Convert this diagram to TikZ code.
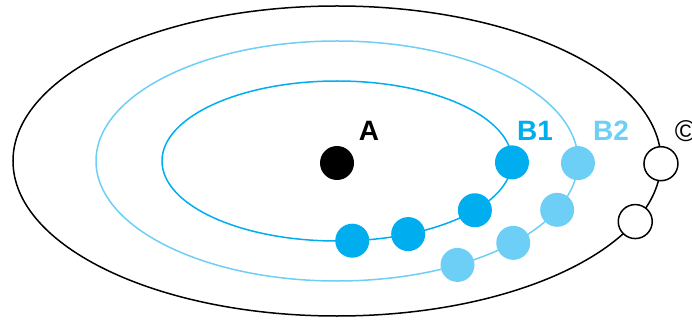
\documentclass[tikz,border=0pt]{standalone}
\usepackage{fontspec}
\setmainfont{Liberation Sans}
\usetikzlibrary{calc}
\definecolor{orbitblue}{HTML}{00AEEF}
\definecolor{orbitlight}{HTML}{6DCFF6}
\begin{document}
\begin{tikzpicture}[x=1pt, y=-1pt,
  dot/.style={circle, inner sep=0pt, minimum size=34pt},
  lbl/.style={font=\fontsize{28}{28}\selectfont\bfseries}]
  \useasboundingbox (0,0) rectangle (692,320);
  \coordinate (ctr) at (337,161);

  % orbits
  \draw[line width=1.5pt] (ctr) ellipse [x radius=324, y radius=155];
  \draw[orbitlight, line width=1.5pt] (ctr) ellipse [x radius=241, y radius=120];
  \draw[orbitblue, line width=1.5pt] (ctr) ellipse [x radius=175, y radius=80];

  % centre
  \node[dot, fill=black] (a) at (337,163) {};
  \node[lbl] (la) at (369,131) {A};

  % inner orbit
  \foreach \t [count=\i] in {1,38,66,85}
    \node[dot, fill=orbitblue] (bone\i) at ($(ctr)+(\t:175 and 80)$) {};
  \node[lbl, orbitblue] (lbone) at (535,131) {B1};

  % middle orbit
  \foreach \t [count=\i] in {1,24,43,60}
    \node[dot, fill=orbitlight] (btwo\i) at ($(ctr)+(\t:241 and 120)$) {};
  \node[lbl, orbitlight] (lbtwo) at (611,131) {B2};

  % outer orbit
  \foreach \t [count=\i] in {1,23}
    \node[dot, draw, fill=white, line width=1.5pt] (c\i) at ($(ctr)+(\t:324 and 155)$) {};
  \node[font=\fontsize{30}{30}\selectfont] (lc) at (686,131) {©};
\end{tikzpicture}
\end{document}
